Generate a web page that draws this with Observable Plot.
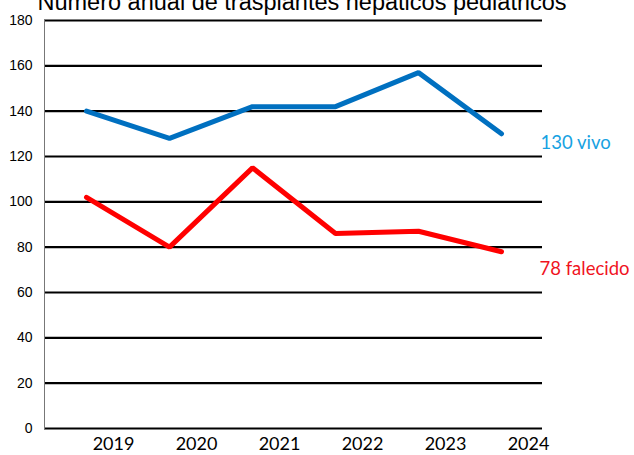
<!DOCTYPE html>
<html>
<head>
<meta charset="utf-8">
<script src="https://cdn.jsdelivr.net/npm/d3@7"></script>
<script src="https://cdn.jsdelivr.net/npm/@observablehq/plot@0.6"></script>
<style>
  html, body { margin: 0; padding: 0; background: #fff; }
</style>
</head>
<body>
<div id="chart"></div>
<script>
const title = "Número anual de trasplantes hepáticos pediátricos";
const years = ["2019", "2020", "2021", "2022", "2023", "2024"];
const vivo = [140, 128, 142, 142, 157, 130];
const falecido = [102, 80, 115, 86, 87, 78];
const yTicks = [0, 20, 40, 60, 80, 100, 120, 140, 160, 180];
const seriesNames = ["vivo", "falecido"];

const rows = [];
years.forEach((y, i) => {
  rows.push({year: y, value: vivo[i], series: seriesNames[0]});
  rows.push({year: y, value: falecido[i], series: seriesNames[1]});
});
const lastYear = years[years.length - 1];
const lastVivo = [{year: lastYear, value: vivo[vivo.length - 1], label: `${vivo[vivo.length - 1]} vivo`}];
const lastFal = [{year: lastYear, value: falecido[falecido.length - 1], label: `${falecido[falecido.length - 1]} falecido`}];

const labelFont = "Lato, 'Open Sans', sans-serif";
const chart = Plot.plot({
  width: 634,
  height: 455,
  marginTop: 20,
  marginBottom: 27,
  marginLeft: 44,
  marginRight: 92,
  style: {background: "#fff", overflow: "visible"},
  x: {type: "point", domain: years, padding: 0.5, label: null},
  y: {domain: [0, 180], label: null},
  color: {domain: seriesNames, range: ["#0070C0", "#FF0000"]},
  marks: [
    Plot.ruleY(yTicks, {stroke: "#000", strokeWidth: 2.2}),
    Plot.frame({anchor: "left", stroke: "#777", strokeWidth: 1}),
    Plot.axisY(yTicks, {tickSize: 0, tickPadding: 12, fontSize: 14, fontFamily: "Liberation Sans, Arial, sans-serif", fill: "#000", label: null}),
    Plot.axisX({tickSize: 0, tickPadding: 9, dx: 27, fontSize: 18, fontFamily: labelFont, fill: "#000", label: null}),
    Plot.line(rows, {x: "year", y: "value", z: "series", stroke: "series", strokeWidth: 5, strokeLinecap: "round", strokeLinejoin: "miter"}),
    Plot.text(lastVivo, {x: "year", y: "value", text: "label", fill: "#17A2E2", dx: 39, dy: 9, textAnchor: "start", fontSize: 18.5, fontFamily: labelFont}),
    Plot.text(lastFal, {x: "year", y: "value", text: "label", fill: "#F0141E", dx: 38, dy: 17, textAnchor: "start", fontSize: 18.5, fontFamily: labelFont}),
    Plot.text([title], {frameAnchor: "top-left", dx: -7, dy: -11, lineAnchor: "bottom", textAnchor: "start", fontSize: 23.5, fontFamily: "Liberation Sans, Arial, sans-serif", fill: "#000"})
  ]
});
document.getElementById("chart").appendChild(chart);
</script>
</body>
</html>
